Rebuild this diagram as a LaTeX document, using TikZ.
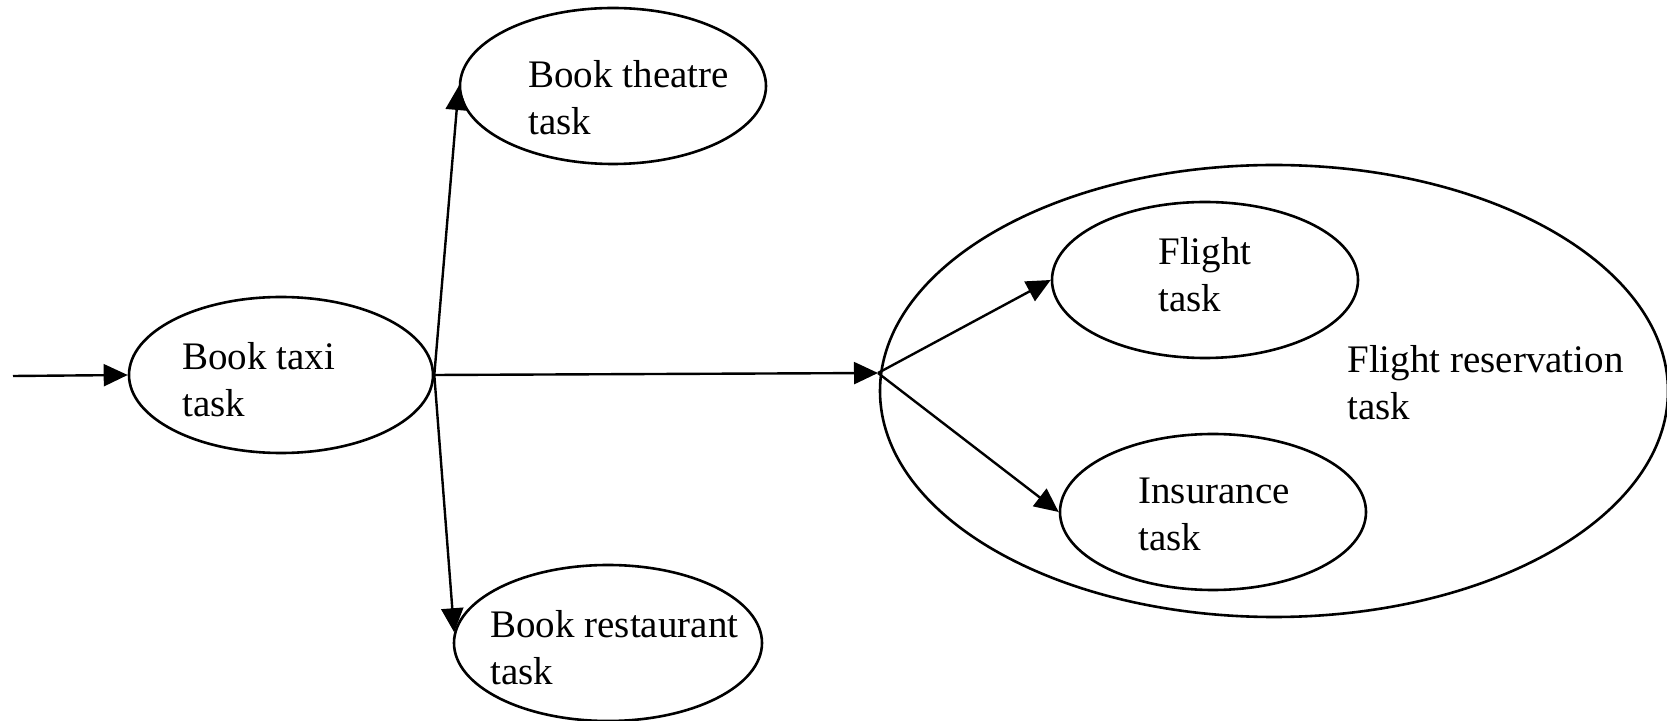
\documentclass[tikz,border=0pt]{standalone}
\usepackage{fontspec}
\setmainfont{Liberation Serif}
\usetikzlibrary{arrows.meta,shapes.geometric}
\tikzset{
  task/.style={draw, ellipse, line width=1.3pt, inner sep=0pt},
  lbl/.style={anchor=base west, align=left, inner sep=0pt, font=\fontsize{19.5}{23.5}\selectfont},
  conn/.style={line width=1.2pt, -{Triangle[length=12pt,width=11pt]}}
}
\begin{document}
\begin{tikzpicture}[x=0.5pt,y=-0.5pt]
\useasboundingbox (0,0) rectangle (1667,721);
% outer container
\node[task, minimum width=394pt, minimum height=226pt] (fres) at (1274,391) {};
\node[task, minimum width=152pt, minimum height=78pt] (taxi) at (281,375) {};
\node[task, minimum width=153pt, minimum height=78pt] (theatre) at (613,86) {};
\node[task, minimum width=154pt, minimum height=78pt] (rest) at (608,643) {};
\node[task, minimum width=153pt, minimum height=78pt] (flight) at (1205,280) {};
\node[task, minimum width=153pt, minimum height=78pt] (ins) at (1213,512) {};
% labels (anchor at the baseline of the last line)
\node[lbl] (taxiL) at (182,417) {Book taxi\\task};
\node[lbl] (theatreL) at (528,135) {Book theatre\\task};
\node[lbl] (restL) at (490,684) {Book restaurant\\task};
\node[lbl] (flightL) at (1158,312) {Flight\\task};
\node[lbl] (insL) at (1138,551) {Insurance\\task};
\node[lbl] (fresL) at (1347,420) {Flight reservation\\task};
% connectors
\coordinate (start) at (13,376);
\coordinate (j) at (878,373);
\draw[conn] (start) -- (taxi.west);
\draw[conn] (taxi.east) -- (theatre.west);
\draw[conn] (taxi.east) -- (rest.176);
\draw[conn] (taxi.east) -- (j);
\draw[conn] (j) -- (flight.west);
\draw[conn] (j) -- (ins.west);
\end{tikzpicture}
\end{document}
